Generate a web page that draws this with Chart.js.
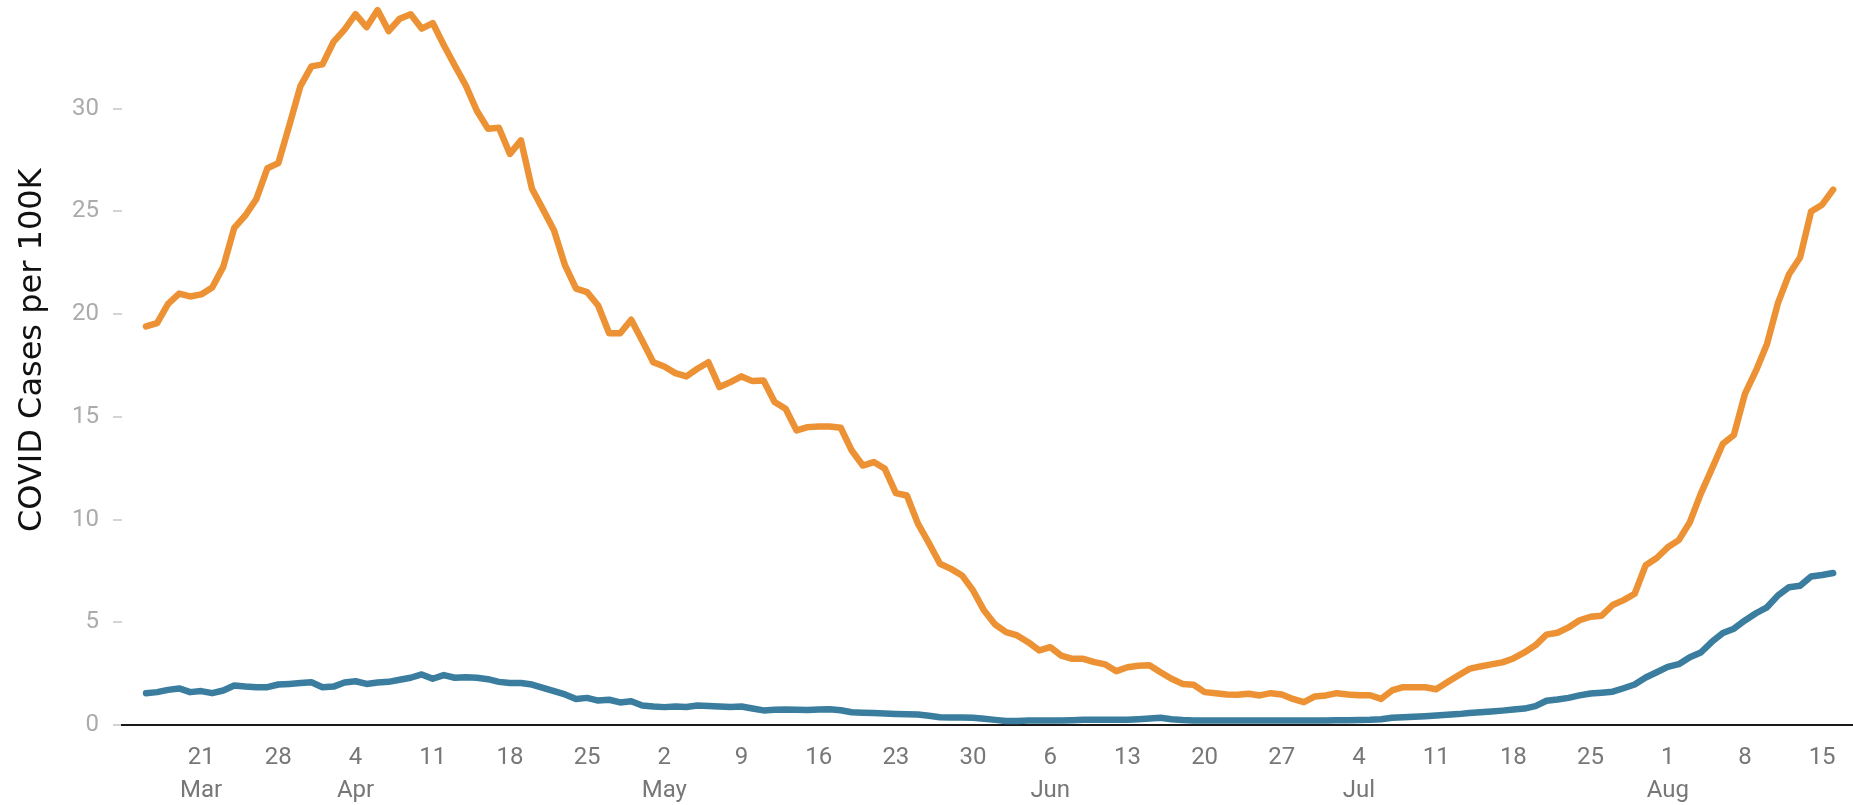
<!DOCTYPE html>
<html>
<head>
<meta charset="utf-8">
<script src="https://cdn.jsdelivr.net/npm/chart.js@4"></script>
<style>
  html, body { margin: 0; padding: 0; background: #fff; }
  #wrap { width: 1853px; height: 805px; position: relative; }
</style>
</head>
<body>
<div id="wrap"><canvas id="myChart"></canvas></div>
<script>
// daily values, Mar 16 .. Aug 16
const firstDay = new Date(2021, 2, 16)

const highSeries = [
  19.4, 19.56, 20.5, 21.0, 20.86, 20.96, 21.3, 22.3, 24.2, 24.8,
  25.6, 27.1, 27.35, 29.2, 31.1, 32.06, 32.16, 33.25, 33.85, 34.6,
  33.97, 34.8, 33.78, 34.38, 34.6, 33.9, 34.17, 33.1, 32.1, 31.13,
  29.9, 29.03, 29.07, 27.8, 28.46, 26.1, 25.1, 24.07, 22.37, 21.24,
  21.07, 20.42, 19.07, 19.07, 19.73, 18.7, 17.66, 17.45, 17.13, 16.97,
  17.34, 17.66, 16.45, 16.69, 16.97, 16.74, 16.77, 15.72, 15.39, 14.34,
  14.5, 14.53, 14.53, 14.47, 13.36, 12.63, 12.8, 12.47, 11.29, 11.17,
  9.8, 8.85, 7.85, 7.6, 7.28, 6.55, 5.57, 4.89, 4.52, 4.36,
  4.03, 3.63, 3.79, 3.38, 3.22, 3.22, 3.06, 2.95, 2.62, 2.81,
  2.88, 2.91, 2.57, 2.25, 2.0, 1.96, 1.6, 1.55, 1.48, 1.47,
  1.52, 1.44, 1.55, 1.48, 1.27, 1.11, 1.39, 1.44, 1.55, 1.48,
  1.45, 1.45, 1.27, 1.68, 1.84, 1.84, 1.84, 1.74, 2.08, 2.41,
  2.73, 2.85, 2.95, 3.05, 3.24, 3.53, 3.88, 4.4, 4.49, 4.75,
  5.1, 5.27, 5.32, 5.84, 6.08, 6.39, 7.78, 8.13, 8.65, 9.0,
  9.87, 11.26, 12.47, 13.69, 14.12, 16.12, 17.25, 18.55, 20.55, 21.94,
  22.76, 25.0, 25.33, 26.06
]

const lowSeries = [
  1.55, 1.6, 1.71, 1.78, 1.6, 1.65, 1.55, 1.68, 1.92, 1.87,
  1.84, 1.84, 1.97, 2.0, 2.04, 2.08, 1.84, 1.87, 2.07, 2.13,
  2.0, 2.07, 2.1, 2.2, 2.3, 2.46, 2.25, 2.43, 2.3, 2.33,
  2.3, 2.23, 2.1, 2.04, 2.04, 1.97, 1.81, 1.65, 1.49, 1.27,
  1.32, 1.19, 1.23, 1.1, 1.16, 0.95, 0.9, 0.87, 0.9, 0.88,
  0.95, 0.92, 0.9, 0.88, 0.9, 0.8, 0.71, 0.74, 0.75, 0.74,
  0.73, 0.75, 0.77, 0.72, 0.62, 0.6, 0.58, 0.56, 0.54, 0.52,
  0.51, 0.45, 0.38, 0.37, 0.36, 0.35, 0.3, 0.25, 0.19, 0.2,
  0.22, 0.22, 0.22, 0.22, 0.23, 0.25, 0.25, 0.25, 0.25, 0.25,
  0.28, 0.32, 0.35, 0.28, 0.24, 0.22, 0.22, 0.22, 0.22, 0.22,
  0.22, 0.22, 0.22, 0.22, 0.22, 0.22, 0.22, 0.22, 0.23, 0.23,
  0.24, 0.25, 0.28, 0.35, 0.38, 0.4, 0.43, 0.46, 0.5, 0.53,
  0.58, 0.62, 0.66, 0.7, 0.75, 0.8, 0.92, 1.18, 1.24, 1.32,
  1.44, 1.53, 1.57, 1.62, 1.79, 1.97, 2.31, 2.57, 2.83, 2.96,
  3.3, 3.53, 4.05, 4.48, 4.69, 5.09, 5.44, 5.73, 6.31, 6.71,
  6.78, 7.23, 7.3, 7.4
]

// x tick labels (one per week, starting Mar 21)
const tickDays = [21, 28, 4, 11, 18, 25, 2, 9, 16, 23, 30, 6, 13, 20, 27, 4, 11, 18, 25, 1, 8, 15]
const tickMonths = ['Mar', '', 'Apr', '', '', '', 'May', '', '', '', '', 'Jun', '', '', '', 'Jul', '', '', '', 'Aug', '', '']

const yTicks = [0, 5, 10, 15, 20, 25, 30]

function dayIndex(month, day) {
    let d = new Date(2021, month, day)
    return Math.round((d - firstDay) / 86400000)
}

// positions of the weekly ticks, from Mar 21
let tickPos = []
let m = 2
tickDays.forEach((d, k) => {
    if (k > 0 && d < tickDays[k - 1]) m++
    tickPos.push(dayIndex(m, d))
})

function toPoints(arr) {
    return arr.map((v, i) => ({ x: i, y: v }))
}

const chartEl = document.getElementById('myChart')
let myChart = new Chart(chartEl, {
    type: 'line',
    data: {
        datasets: [{
            label: 'high',
            data: toPoints(highSeries),
            borderColor: '#ED9234',
            borderWidth: 6.5,
            borderJoinStyle: 'round',
            borderCapStyle: 'round',
            pointRadius: 0,
            tension: 0
        }, {
            label: 'low',
            data: toPoints(lowSeries),
            borderColor: '#3A7D9E',
            borderWidth: 6.5,
            borderJoinStyle: 'round',
            borderCapStyle: 'round',
            pointRadius: 0,
            tension: 0
        }]
    },
    options: {
        responsive: true,
        maintainAspectRatio: false,
        animation: false,
        devicePixelRatio: 1,
        layout: { padding: { top: 6, left: 0, right: 0, bottom: 0 } },
        plugins: {
            legend: { display: false },
            tooltip: { enabled: false }
        },
        scales: {
            x: {
                type: 'linear',
                min: -2.18,
                max: 154.8,
                afterBuildTicks: s => {
                    s.ticks = tickPos.map(p => ({ value: p }))
                },
                afterFit: s => {
                    s.height = 80
                    s.paddingLeft = 0
                    s.paddingRight = 0
                },
                grid: { display: true, drawOnChartArea: false, drawTicks: false },
                border: { display: true, color: '#1a1a1a', width: 2 },
                ticks: {
                    autoSkip: false,
                    maxRotation: 0,
                    padding: 16,
                    color: '#777',
                    font: { family: 'Roboto', size: 24, lineHeight: 1.4 },
                    callback: (val, idx) => {
                        let k = tickPos.indexOf(val)
                        if (k < 0) return ''
                        return [String(tickDays[k]), tickMonths[k]]
                    }
                }
            },
            y: {
                min: 0,
                max: 35,
                afterBuildTicks: s => {
                    s.ticks = yTicks.map(v => ({ value: v }))
                },
                afterFit: s => {
                    s.width = 122
                    s.paddingTop = 0
                    s.paddingBottom = 0
                },
                grid: {
                    drawOnChartArea: false,
                    drawTicks: true,
                    tickLength: 9,
                    color: '#d4d4d4',
                    lineWidth: 2
                },
                border: { display: false },
                ticks: {
                    padding: 14,
                    color: '#ababab',
                    font: { family: 'Roboto', size: 24 }
                },
                title: {
                    display: true,
                    text: '   COVID Cases per 100K',
                    color: '#111',
                    padding: { top: 13, bottom: 0 },
                    font: { family: 'DejaVu Sans', size: 32, lineHeight: 1.2 }
                }
            }
        }
    }
})
</script>
</body>
</html>
